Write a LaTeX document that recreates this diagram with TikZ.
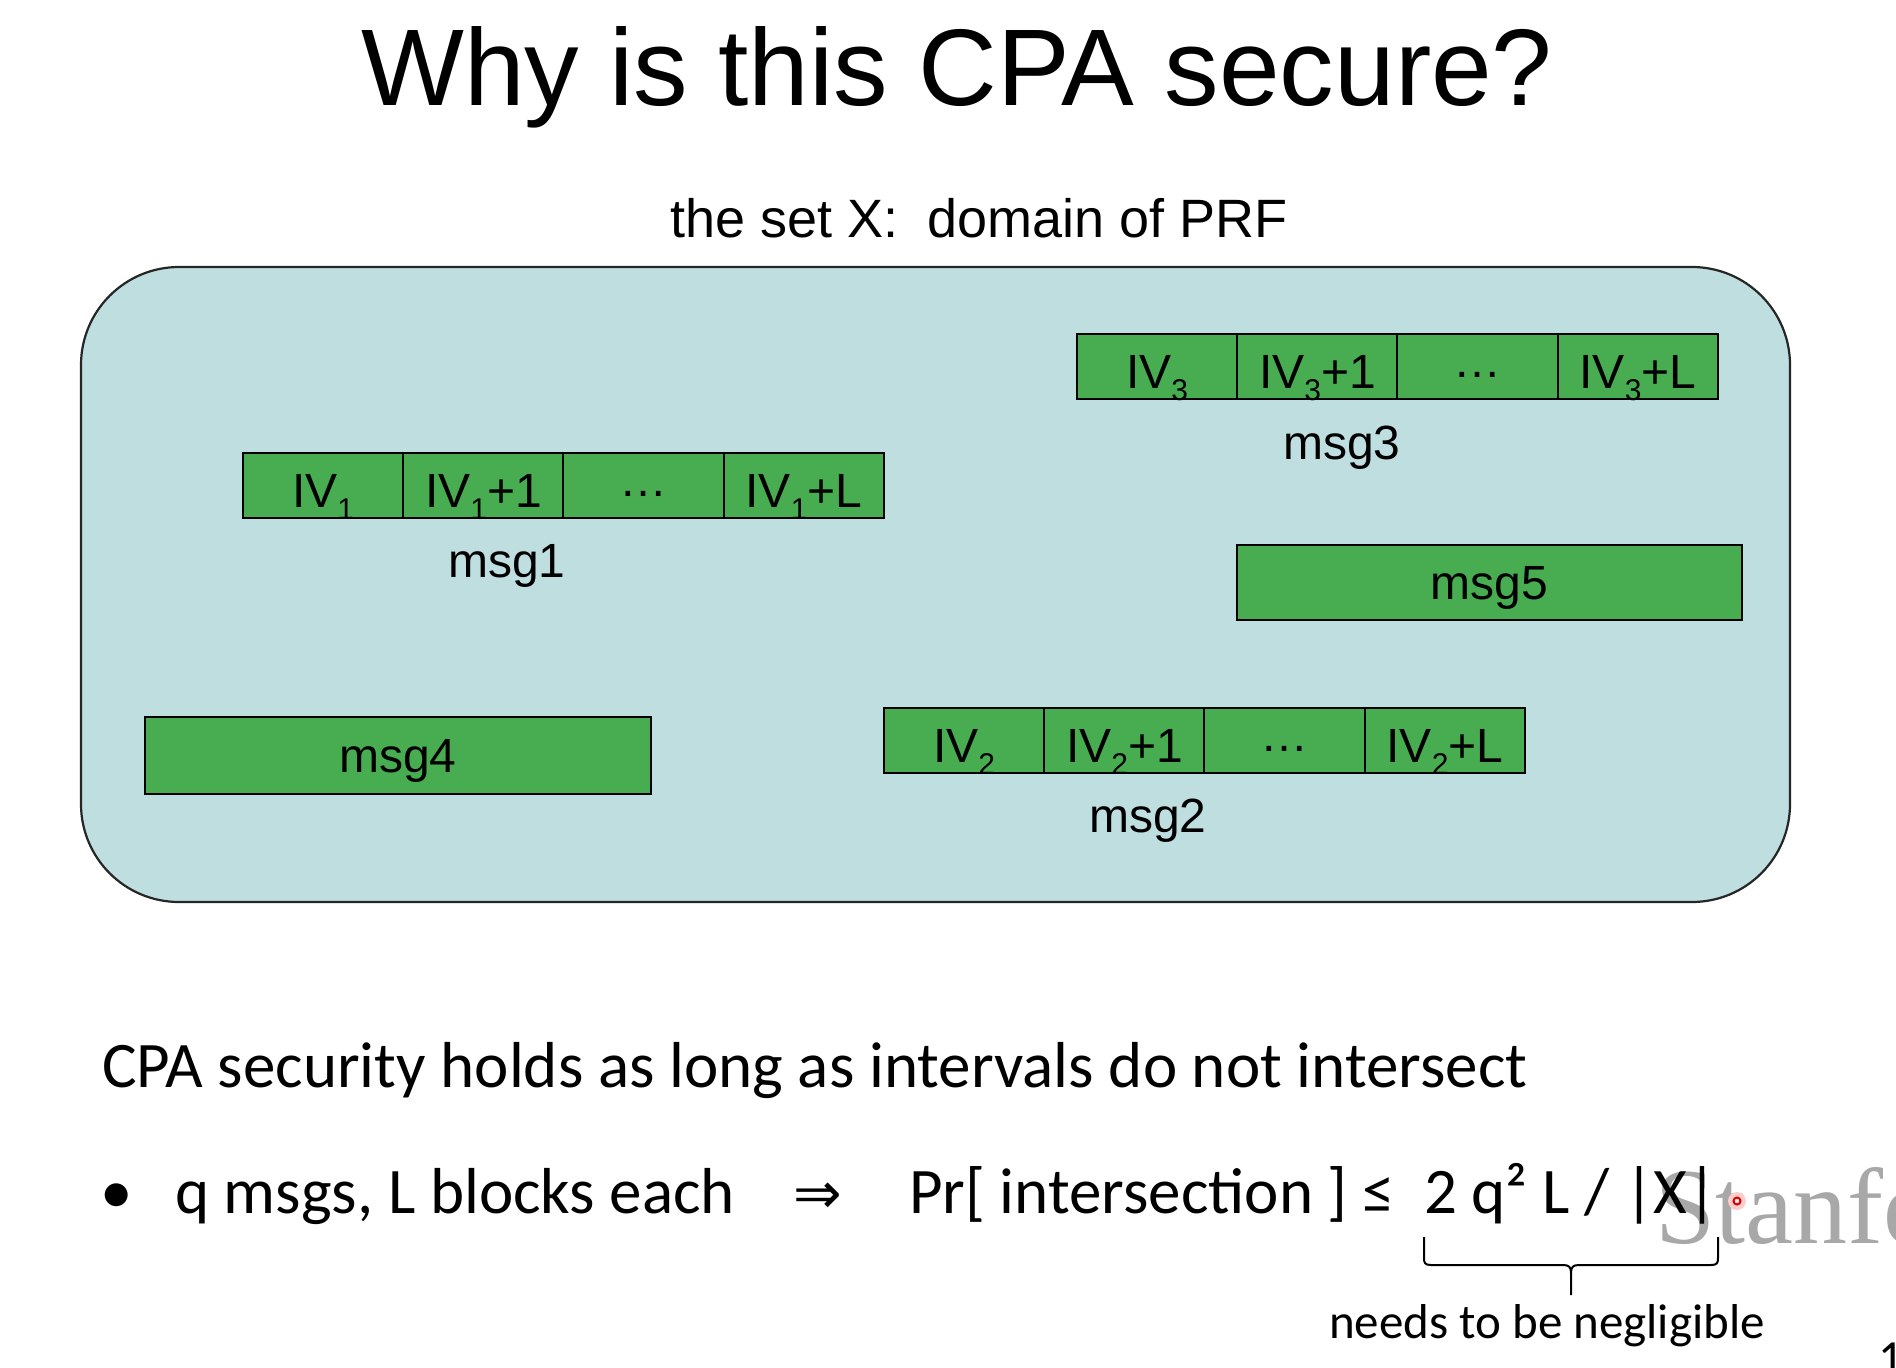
\documentclass[tikz,border=0pt]{standalone}
\usepackage{fontspec}
\setmainfont{Liberation Sans}
\newfontfamily\bodyfont{Carlito}
\newfontfamily\markfont{Liberation Serif}
\newfontfamily\symfont{DejaVu Sans}
\definecolor{setfill}{RGB}{190,222,224}
\definecolor{blockgreen}{RGB}{71,173,80}
\definecolor{markgray}{RGB}{168,168,168}
\newcommand\fs[1]{\fontsize{#1}{#1}\selectfont}
\newcommand\ivsub[2]{IV\raisebox{-12pt}{\fs{30}#1}#2}
\newcommand\cdotsrow{\raisebox{11pt}{\ldots}}

\begin{document}
\begin{tikzpicture}[x=1pt,y=-1pt,
  txt/.style={inner sep=0pt, outer sep=0pt, anchor=base},
  cell/.style={draw=black, line width=2pt, fill=blockgreen,
    minimum width=160.25pt, minimum height=65pt, inner sep=0pt,
    text height=44pt, text depth=0pt, font=\fs{48}},
  wide/.style={draw=black, line width=2pt, fill=blockgreen,
    minimum width=505pt, inner sep=0pt,
    text height=34pt, text depth=0pt, font=\fs{48}},
  msglabel/.style={txt, font=\fs{48}},
  body/.style={txt, anchor=base west, font=\bodyfont\fs{65}},
]
\useasboundingbox (0,0) rectangle (1896,1368);
\clip (0,0) rectangle (1896,1368);
\fill[white] (0,0) rectangle (1896,1368);

% title and caption of the set
\node[txt, font=\fs{109}] (title) at (957,105) {Why is this CPA secure?};
\node[txt, font=\fs{54}] (sub) at (979,237) {the set X:\hspace{14pt} domain of PRF};

% the set X
\node[draw=black!85, line width=2.2pt, fill=setfill, rounded corners=98pt,
  minimum width=1709pt, minimum height=635pt] (setX) at (935.5,584.5) {};

% msg3
\node[cell] (c31) at (1157.1,366) {\ivsub{3}{}};
\node[cell] (c32) at (1317.4,366) {\ivsub{3}{+1}};
\node[cell] (c33) at (1477.6,366) {\cdotsrow};
\node[cell] (c34) at (1637.9,366) {\ivsub{3}{+L}};
\node[msglabel] (m3) at (1342,459) {msg3};

% msg1
\node[cell] (c11) at (323.1,485) {\ivsub{1}{}};
\node[cell] (c12) at (483.4,485) {\ivsub{1}{+1}};
\node[cell] (c13) at (643.6,485) {\cdotsrow};
\node[cell] (c14) at (803.9,485) {\ivsub{1}{+L}};
\node[msglabel] (m1) at (507,577) {msg1};

% msg2
\node[cell] (c21) at (964.1,740) {\ivsub{2}{}};
\node[cell] (c22) at (1124.4,740) {\ivsub{2}{+1}};
\node[cell] (c23) at (1284.6,740) {\cdotsrow};
\node[cell] (c24) at (1444.9,740) {\ivsub{2}{+L}};
\node[msglabel] (m2) at (1148,832) {msg2};

% msg4 and msg5
\node[wide, minimum height=75pt] (m5) at (1489.5,582.5) {msg5};
\node[wide, minimum width=506pt, minimum height=77pt] (m4) at (398,755.5) {msg4};

% watermark, behind the text
\node[txt, anchor=base west, font=\markfont\fs{108}, text=markgray] (mark) at (1655,1243) {Stanford};

% statement
\node[body] (claim) at (102,1087) {CPA security holds as long as intervals do not intersect};
\node[txt, font=\bodyfont\fs{65}] (bullet) at (117,1213) {•};
\node[body] (qmsgs) at (175,1213) {q msgs, L blocks each};
\node[txt, anchor=base west, font=\symfont\fs{58}] (implies) at (793,1213) {⇒};
\node[body] (prob) at (909,1213) {Pr[ intersection ] ≤};
\node[body] (bound) at (1424,1213) {2 q² L / |X|};

% underbrace
\coordinate (bl) at (1424,1237);
\coordinate (br) at (1718,1237);
\coordinate (tip) at (1571,1295);
\draw[line width=2pt, line join=round]
  (bl) -- (1424,1258) .. controls (1424,1263) and (1425,1265) .. (1431,1265)
  -- (1563,1265) .. controls (1569,1265) and (1571,1267) .. (1571,1273)
  -- (tip);
\draw[line width=2pt, line join=round]
  (1571,1273) .. controls (1571,1267) and (1573,1265) .. (1579,1265)
  -- (1711,1265) .. controls (1717,1265) and (1718,1263) .. (1718,1258)
  -- (br);
\node[txt, font=\bodyfont\fs{49}] (needs) at (1547,1338) {needs to be negligible};

% page number
\node[txt, anchor=base west, font=\bodyfont\fs{49}] (pageno) at (1878,1374) {1};

% pointer dot
\fill[red!20] (1737,1201) circle (9pt);
\draw[red!85!black, line width=2pt, fill=red!10] (1737,1201) circle (3.5pt);
\end{tikzpicture}
\end{document}
